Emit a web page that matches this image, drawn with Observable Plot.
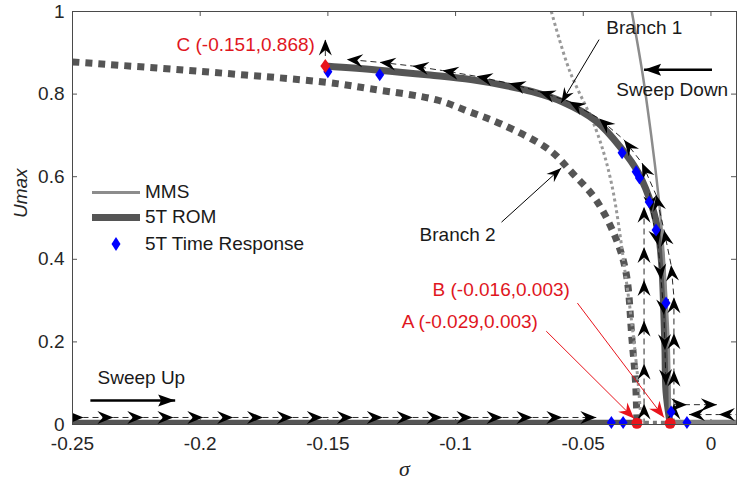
<!DOCTYPE html>
<html><head><meta charset="utf-8">
<script src="https://cdn.jsdelivr.net/npm/d3@7"></script>
<script src="https://cdn.jsdelivr.net/npm/@observablehq/plot@0.6"></script>
<style>
body{margin:0;background:#fff;}
#wrap{position:relative;width:737px;height:490px;font-family:"Liberation Sans",Arial,sans-serif;color:#1a1a1a;}
.lg{position:absolute;font-size:19px;line-height:22px;white-space:nowrap;}
</style></head><body><div id="wrap"></div>
<script>
// ---- axes ----
const xTicks = [-0.25, -0.2, -0.15, -0.1, -0.05, 0];
const yTicks = [0, 0.2, 0.4, 0.6, 0.8, 1];
const xDomain = [-0.25, 0.01];
const yDomain = [0, 1];

// ---- MMS (stable, solid) ----
const mmsSigma = [-0.031, -0.0268, -0.0234, -0.0214, -0.0197, -0.0184, -0.0174, -0.0166, -0.0162, -0.016];
const mmsU     = [1, 0.85, 0.7, 0.6, 0.5, 0.4, 0.3, 0.2, 0.1, 0];
// ---- MMS (unstable, dotted) ----
const mmsUnSigma = [-0.0625, -0.0555, -0.045, -0.039, -0.0332, -0.0305, -0.0285, -0.0273];
const mmsUnU     = [1, 0.859, 0.714, 0.585, 0.35, 0.22, 0.1, 0];
// ---- 5T ROM Branch 1 (stable) ----
const b1Sigma = [-0.151, -0.13, -0.11, -0.094, -0.08, -0.07, -0.058, -0.045, -0.035, -0.0285, -0.023, -0.0205, -0.0192, -0.0185, -0.018, -0.0176, -0.016];
const b1U     = [0.868, 0.858, 0.846, 0.835, 0.82, 0.806, 0.781, 0.735, 0.668, 0.61, 0.527, 0.46, 0.38, 0.28, 0.18, 0.08, 0.003];
// ---- 5T ROM Branch 2 (unstable) ----
const b2Sigma = [-0.25, -0.2, -0.15, -0.1336, -0.1074, -0.0945, -0.0816, -0.0633, -0.0543, -0.045, -0.037, -0.0332, -0.0309, -0.0295, -0.029];
const b2U     = [0.878, 0.855, 0.828, 0.813, 0.786, 0.757, 0.726, 0.665, 0.609, 0.544, 0.447, 0.366, 0.204, 0.1, 0.003];
// ---- 5T ROM lower branch ----
const lowStableSigma = [-0.25, -0.029];
const lowUnstableSigma = [-0.029, -0.016];
const lowRightSigma = [-0.016, 0.01];
const lowU = 0.003;
// ---- 5T Time Response ----
const trSigma = [-0.15, -0.1297, -0.0348, -0.0293, -0.028, -0.0242, -0.0215, -0.0176, -0.039, -0.0344, -0.0156, -0.0094];
const trU     = [0.854, 0.847, 0.658, 0.612, 0.597, 0.539, 0.471, 0.294, 0.005, 0.005, 0.03, 0.005];
// ---- marked points ----
const markLabels = ["A (-0.029,0.003)", "B (-0.016,0.003)", "C (-0.151,0.868)"];
const markSigma = [-0.029, -0.016, -0.151];
const markU = [0.003, 0.003, 0.868];
// ---- sweep paths (arrowheads at every point after the first) ----
const sweepUpSigma = [-0.25, -0.2457, -0.234, -0.2223, -0.2105, -0.1988, -0.1871, -0.1754, -0.1637, -0.152, -0.1402, -0.1285, -0.1168, -0.1051, -0.0934, -0.0816, -0.0699, -0.0582, -0.0449];
const sweepUpU = sweepUpSigma.map(() => 0.017);
const jumpASigma = [-0.0262, -0.0262, -0.0262, -0.0262, -0.0262, -0.0262, -0.0262];
const jumpAU     = [0.0, 0.051, 0.148, 0.252, 0.35, 0.43, 0.527];
const downSigma = [-0.024, -0.0234, -0.0207, -0.0195, -0.0184, -0.018, -0.0176];
const downU     = [0.56, 0.515, 0.434, 0.35, 0.265, 0.18, 0.095];
const upSigma = [-0.0145, -0.0145, -0.0145, -0.0145, -0.0145, -0.0156, -0.0184, -0.0215, -0.027, -0.034, -0.0438, -0.0555, -0.0672, -0.0789, -0.0918, -0.1051, -0.1168, -0.1297, -0.1426];
const upU     = [0.0, 0.051, 0.131, 0.221, 0.308, 0.386, 0.471, 0.556, 0.633, 0.689, 0.741, 0.782, 0.806, 0.826, 0.843, 0.857, 0.868, 0.877, 0.884];
const cSigma = [-0.151, -0.151];
const cU = [0.868, 0.932];
const rightInSigma = [0.012, 0.0031, -0.0086];
const rightInU = [0.024, 0.024, 0.024];
const rightOutSigma = [-0.0145, -0.0094, 0.0023];
const rightOutU = [0.048, 0.048, 0.048];
// ---- annotations ----
const notes = [
  {text: "Branch 1", x: -0.041, y: 0.961, fromX: -0.0438, fromY: 0.932, toX: -0.0586, toY: 0.779},
  {text: "Branch 2", x: -0.1141, y: 0.459, fromX: -0.082, fromY: 0.49, toX: -0.0586, toY: 0.621}
];
const sweepText = [
  {text: "Sweep Up", x: -0.2402, y: 0.114, fromX: -0.243, fromY: 0.058, toX: -0.2098, toY: 0.058},
  {text: "Sweep Down", x: -0.0371, y: 0.811, fromX: 0.0004, fromY: 0.859, toX: -0.0262, toY: 0.859}
];
const redNotes = [
  {text: markLabels[0], x: -0.1211, y: 0.248, fromX: -0.0645, fromY: 0.226, toX: -0.0301, toY: 0.0146},
  {text: markLabels[1], x: -0.109, y: 0.325, fromX: -0.0523, fromY: 0.294, toX: -0.0184, toY: 0.017}
];
const redNoteC = [{text: markLabels[2], x: -0.1551, y: 0.92}];

// ---- layout ----
const W = 737, H = 490, ML = 72, MR = 1, MT = 11, MB = 66;
const kx = (W - ML - MR) / (xDomain[1] - xDomain[0]);
const ky = (H - MT - MB) / (yDomain[1] - yDomain[0]);
const ang = (dx, dy) => Math.atan2(-dy * ky, dx * kx) * 180 / Math.PI;

const zip = (xs, ys) => xs.map((x, i) => ({x, y: ys[i]}));
function heads(xs, ys) {
  const out = [];
  for (let i = 1; i < xs.length; i++) out.push({x: xs[i], y: ys[i], a: ang(xs[i] - xs[i - 1], ys[i] - ys[i - 1])});
  return out;
}
const stealth = (len, half, notch) => ({draw(c) {
  c.moveTo(0, 0); c.lineTo(-len, -half); c.lineTo(-len + notch, 0); c.lineTo(-len, half); c.closePath();
}});
const diamond = (hw, hh) => ({draw(c) {
  c.moveTo(0, -hh); c.lineTo(hw, 0); c.lineTo(0, hh); c.lineTo(-hw, 0); c.closePath();
}});

const paths = [[sweepUpSigma, sweepUpU], [jumpASigma, jumpAU], [downSigma, downU], [upSigma, upU], [cSigma, cU], [rightInSigma, rightInU], [rightOutSigma, rightOutU]];
const pathLines = paths.flatMap(([xs, ys], k) => zip(xs, ys).map(d => ({...d, k})));
const pathHeads = paths.flatMap(([xs, ys]) => heads(xs, ys));
const noteHeads = notes.map(d => ({x: d.toX, y: d.toY, a: ang(d.toX - d.fromX, d.toY - d.fromY)}));
const sweepHeads = sweepText.map(d => ({x: d.toX, y: d.toY, a: ang(d.toX - d.fromX, d.toY - d.fromY)}));
const redHeads = redNotes.map(d => ({x: d.toX, y: d.toY, a: ang(d.toX - d.fromX, d.toY - d.fromY)}));

const butt = {strokeLinecap: "butt", strokeLinejoin: "miter"};
const pw = W - ML - MR, ph = H - MT - MB;
const plot = Plot.plot({
  width: W, height: H, marginLeft: ML, marginRight: MR, marginTop: MT, marginBottom: MB,
  style: {fontFamily: '"Liberation Sans", Arial, sans-serif', fontSize: "19px", color: "#262626", background: "#fff"},
  x: {domain: xDomain}, y: {domain: yDomain},
  marks: [
    // inward ticks (box style)
    Plot.tickX(xTicks, {x: d => d, insetTop: ph - 5, stroke: "#555"}),
    Plot.tickX(xTicks, {x: d => d, insetBottom: ph - 5, stroke: "#555"}),
    Plot.tickY(yTicks, {y: d => d, insetRight: pw - 5, stroke: "#555"}),
    Plot.tickY(yTicks, {y: d => d, insetLeft: pw - 5, stroke: "#555"}),
    Plot.axisX(xTicks, {tickSize: 0, tickPadding: 12, tickFormat: d => String(d), label: null, fill: "#262626"}),
    Plot.axisY(yTicks, {tickSize: 0, tickPadding: 8, tickFormat: d => String(d), label: null, fill: "#262626"}),
    // ROM lower branch
    Plot.line(lowStableSigma.map(x => ({x, y: lowU})), {x: "x", y: "y", stroke: "#555", strokeWidth: 7, clip: true, ...butt}),
    Plot.line(lowUnstableSigma.map(x => ({x, y: lowU})), {x: "x", y: "y", stroke: "#777", strokeWidth: 5, strokeDasharray: "4,4", clip: true, ...butt}),
    Plot.line(lowRightSigma.map(x => ({x, y: lowU})), {x: "x", y: "y", stroke: "#808080", strokeWidth: 7, clip: true, ...butt}),
    // ROM branch 2 (unstable)
    Plot.line(zip(b2Sigma, b2U), {x: "x", y: "y", stroke: "#555", strokeWidth: 7, strokeDasharray: "7,6", curve: "catmull-rom", clip: true, ...butt}),
    // MMS unstable
    Plot.line(zip(mmsUnSigma, mmsUnU), {x: "x", y: "y", stroke: "#999", strokeWidth: 3, strokeDasharray: "3,3", curve: "catmull-rom", clip: true, ...butt}),
    // ROM branch 1
    Plot.line(zip(b1Sigma, b1U), {x: "x", y: "y", stroke: "#555", strokeWidth: 7, curve: "catmull-rom", clip: true, ...butt}),
    // MMS stable
    Plot.line(zip(mmsSigma, mmsU), {x: "x", y: "y", stroke: "#8c8c8c", strokeWidth: 2.5, curve: "catmull-rom", clip: true}),
    // sweep paths
    Plot.line(pathLines, {x: "x", y: "y", z: "k", stroke: "#111", strokeWidth: 0.9, strokeDasharray: "6,4", clip: true, ...butt}),
    Plot.dot(pathHeads, {x: "x", y: "y", rotate: "a", r: 5, symbol: stealth(16, 6.5, 5.5), fill: "#000", stroke: "none", clip: true}),
    // time response
    Plot.dot(zip(trSigma, trU), {x: "x", y: "y", r: 5, symbol: diamond(4.5, 6.5), fill: "#0000ff", stroke: "none"}),
    // red marks
    Plot.dot(zip(markSigma.slice(0, 2), markU.slice(0, 2)), {x: "x", y: "y", r: 5.5, fill: "#e8141c", stroke: "none"}),
    Plot.dot(zip(markSigma.slice(2), markU.slice(2)), {x: "x", y: "y", r: 5, symbol: diamond(5, 7), fill: "#e8141c", stroke: "none"}),
    Plot.link(redNotes, {x1: "fromX", y1: "fromY", x2: "toX", y2: "toY", stroke: "#e8141c", strokeWidth: 1}),
    Plot.dot(redHeads, {x: "x", y: "y", rotate: "a", r: 5, symbol: stealth(16, 6.5, 5), fill: "#e8141c", stroke: "none"}),
    Plot.text(redNotes, {x: "x", y: "y", text: "text", textAnchor: "start", fill: "#e0161e"}),
    Plot.text(redNoteC, {x: "x", y: "y", text: "text", textAnchor: "end", fill: "#e0161e"}),
    // black annotations
    Plot.link(notes, {x1: "fromX", y1: "fromY", x2: "toX", y2: "toY", stroke: "#000", strokeWidth: 1}),
    Plot.dot(noteHeads, {x: "x", y: "y", rotate: "a", r: 5, symbol: stealth(15, 5.5, 5), fill: "#000", stroke: "none"}),
    Plot.text(notes, {x: "x", y: "y", text: "text", textAnchor: "start", fill: "#1a1a1a"}),
    Plot.link(sweepText, {x1: "fromX", y1: "fromY", x2: "toX", y2: "toY", stroke: "#000", strokeWidth: 2.6, ...butt}),
    Plot.dot(sweepHeads, {x: "x", y: "y", rotate: "a", r: 5, symbol: stealth(17, 6, 3), fill: "#000", stroke: "none"}),
    Plot.text(sweepText, {x: "x", y: "y", text: "text", textAnchor: "start", fill: "#1a1a1a"}),
    // axis labels
    Plot.text(["σ"], {frameAnchor: "bottom", dy: 51, text: d => d, fontFamily: '"Liberation Serif", "DejaVu Serif", serif', fontStyle: "italic", fontSize: 22, fill: "#262626"}),
    Plot.text(["Umax"], {frameAnchor: "left", dx: -52, rotate: -90, text: d => d, fontStyle: "italic", fill: "#262626"}),
    Plot.frame({stroke: "#4a4a4a", strokeWidth: 1})
  ]
});
const wrap = document.getElementById("wrap");
wrap.appendChild(plot);

// legend (drawn inside plot area, as in the reference)
const legendItems = ["MMS", "5T ROM", "5T Time Response"];
const lg = document.createElement("div");
lg.innerHTML = `
  <div style="position:absolute;left:92px;top:191px;width:48px;height:2.5px;background:#8c8c8c"></div>
  <div style="position:absolute;left:92px;top:213.5px;width:48px;height:7px;background:#555"></div>
  <svg style="position:absolute;left:108px;top:235px" width="16" height="18"><path d="M8,2L12.5,9L8,16L3.5,9Z" fill="#0000ff"/></svg>
  <div class="lg" style="left:145px;top:181px">${legendItems[0]}</div>
  <div class="lg" style="left:145px;top:206px">${legendItems[1]}</div>
  <div class="lg" style="left:145px;top:233px">${legendItems[2]}</div>`;
wrap.appendChild(lg);
</script></body></html>
